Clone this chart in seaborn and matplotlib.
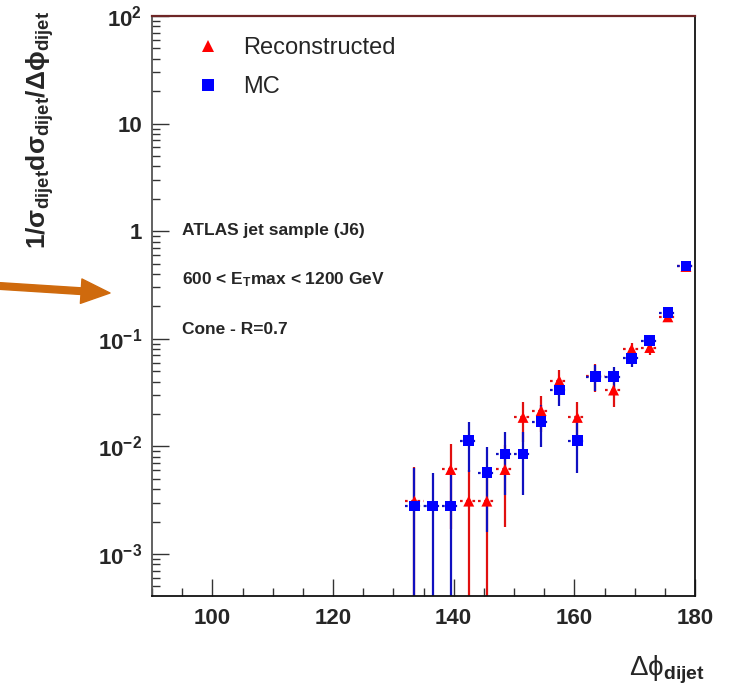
import numpy as np
import pandas as pd
import matplotlib
matplotlib.use("Agg")
import matplotlib.pyplot as plt
import seaborn as sns
from matplotlib.lines import Line2D
from matplotlib.ticker import FixedLocator, LogLocator, NullFormatter

# ---------------- data ----------------
bin_centers = [133.5, 136.5, 139.5, 142.5, 145.5, 148.5, 151.5, 154.5,
               157.5, 160.5, 163.5, 166.5, 169.5, 172.5, 175.5, 178.5]
bin_halfwidth = 1.5
mc_values = [0.0028, 0.0028, 0.0028, 0.0113, 0.0057, 0.0085, 0.0085, 0.0170,
             0.0334, 0.0113, 0.0446, 0.0446, 0.0659, 0.0960, 0.175, 0.475]
mc_errors = [0.0035, 0.0029, 0.0030, 0.0055, 0.0041, 0.0050, 0.0050, 0.0072,
             0.0096, 0.0056, 0.012, 0.010, 0.011, 0.013, 0.010, 0.010]
reco_values = [0.0031, np.nan, 0.0061, 0.0031, 0.0031, 0.0061, 0.0186, 0.0215,
               0.0408, 0.0186, 0.045, 0.0334, 0.080, 0.083, 0.160, 0.47]
reco_errors = [0.0033, np.nan, 0.0044, 0.0029, 0.0031, 0.0043, 0.0075, 0.008,
               0.0105, 0.0075, 0.013, 0.010, 0.012, 0.012, 0.010, 0.010]
series_names = ["Reconstructed", "MC"]
x_ticks = [100, 120, 140, 160, 180]
y_ticks = [1e-3, 1e-2, 1e-1, 1, 10, 100]
y_ticklabels = [r"$10^{-3}$", r"$10^{-2}$", r"$10^{-1}$", "1", "10", r"$10^{2}$"]
info_lines = ["ATLAS jet sample (J6)", r"600 < E$_{T}$max < 1200 GeV", "Cone - R=0.7"]

df = pd.DataFrame({
    "x": bin_centers * 2,
    "y": reco_values + mc_values,
    "err": reco_errors + mc_errors,
    "series": [series_names[0]] * len(bin_centers) + [series_names[1]] * len(bin_centers),
})

# ---------------- style ----------------
sns.set_theme(style="ticks")
plt.rcParams["font.family"] = ["Liberation Sans", "DejaVu Sans"]
plt.rcParams["mathtext.fontset"] = "custom"
plt.rcParams["mathtext.rm"] = "Liberation Sans"
plt.rcParams["mathtext.it"] = "Liberation Sans:italic"
plt.rcParams["mathtext.bf"] = "Liberation Sans:bold"
plt.rcParams["mathtext.default"] = "regular"

W, H = 731, 692
fig = plt.figure(figsize=(W / 100, H / 100), dpi=100)
fig.patch.set_facecolor("white")
L, R, B, T = 152, 695, 596, 16
ax = fig.add_axes([L / W, (H - B) / H, (R - L) / W, (B - T) / H])
ax.set_facecolor("white")

colors = {"Reconstructed": "#ff0000", "MC": "#0000ff"}
markers = {"Reconstructed": "^", "MC": "s"}
ecolors = {"Reconstructed": "#e01010", "MC": "#1010c0"}

for name in series_names:
    sub = df[df["series"] == name].dropna()
    # vertical error bars
    ax.errorbar(sub["x"], sub["y"], yerr=sub["err"], fmt="none",
                ecolor=ecolors[name], elinewidth=1.6, capsize=0, zorder=2)
    # horizontal (bin width) error bars, dotted
    eb = ax.errorbar(sub["x"], sub["y"], xerr=bin_halfwidth, fmt="none",
                     ecolor=ecolors[name], elinewidth=1.6, capsize=0, zorder=2)
    for lc in eb[2]:
        lc.set_linestyle((0, (1.2, 1.6)))

for name in series_names:
    sub = df[df["series"] == name].dropna()
    sns.scatterplot(data=sub, x="x", y="y", marker=markers[name],
                    color=colors[name], s=58 if name == "MC" else 62,
                    edgecolor="none", linewidth=0, ax=ax, zorder=4 if name == "MC" else 3,
                    legend=False)

ax.set_yscale("log", nonpositive="clip")
ax.set_xlim(90, 180)
ax.set_ylim(4.07e-4, 100)

# ticks
ax.xaxis.set_major_locator(FixedLocator(x_ticks))
ax.xaxis.set_minor_locator(FixedLocator(np.arange(90, 181, 5)))
ax.set_xticks(x_ticks)
ax.set_xticklabels([str(t) for t in x_ticks])
ax.set_yticks(y_ticks)
ax.set_yticklabels(y_ticklabels)
ax.yaxis.set_minor_locator(LogLocator(base=10, subs=np.arange(2, 10), numticks=20))
ax.yaxis.set_minor_formatter(NullFormatter())
ax.tick_params(axis="both", which="major", direction="in", length=12, width=1.0,
               color="#333333", labelsize=16)
ax.tick_params(axis="both", which="minor", direction="in", length=6, width=1.0,
               color="#333333")
ax.tick_params(axis="x", which="major", pad=9)
ax.tick_params(axis="y", which="major", pad=7)
for lab in ax.get_xticklabels() + ax.get_yticklabels():
    lab.set_fontweight("bold")

for side in ["left", "bottom", "right"]:
    ax.spines[side].set_color("#111111")
    ax.spines[side].set_linewidth(1.3)
ax.spines["left"].set_color("#555555")
ax.spines["top"].set_color("#6e2626")
ax.spines["top"].set_linewidth(1.6)

ax.set_xlabel("")
ax.set_ylabel("")

# axis titles
fig.text(40 / W, 1 - 130 / H,
         r"1/$\sigma_{\mathbf{dijet}}$d$\sigma_{\mathbf{dijet}}$/$\Delta\phi_{\mathbf{dijet}}$",
         rotation=90, ha="center", va="center", fontsize=19, fontweight="bold")
fig.text(705 / W, 1 - 670 / H, r"$\Delta\phi_{\mathbf{dijet}}$",
         ha="right", va="center", fontsize=20)

# legend
handles = [Line2D([], [], linestyle="none", marker=markers[n], color=colors[n],
                  markersize=8, markeredgewidth=0) for n in series_names]
ax.legend(handles, series_names, loc="upper left", bbox_to_anchor=(0.055, 0.988),
          frameon=False, fontsize=17, handlelength=1.0, handletextpad=1.0,
          labelspacing=0.72, borderaxespad=0.2)

# info text
for i, line in enumerate(info_lines):
    fig.text(182 / W, 1 - (231 + 49 * i) / H, line, ha="left", va="center",
             fontsize=12.5, fontweight="bold")

# orange arrow in the margin
ax.annotate("", xy=(110, H - 293), xycoords="figure pixels",
            xytext=(0, H - 286), textcoords="figure pixels",
            arrowprops=dict(arrowstyle="simple,head_length=1.3,head_width=1.1,tail_width=0.3",
                            color="#cf6a0d", mutation_scale=16, shrinkA=0, shrinkB=0),
            annotation_clip=False)

fig.savefig("out.png", dpi=100, facecolor="white")
